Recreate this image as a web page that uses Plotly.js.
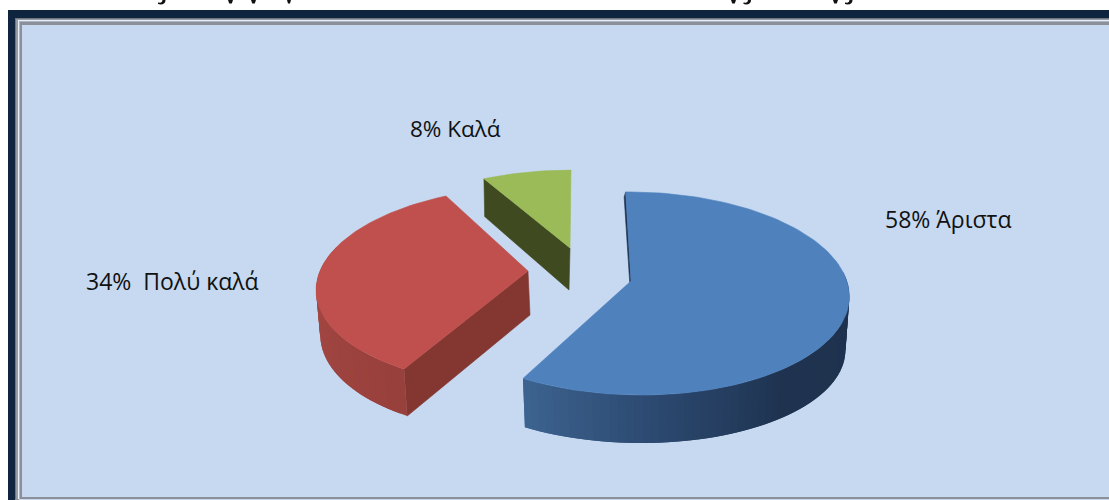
<!DOCTYPE html>
<html><head><meta charset="utf-8">
<script src="https://cdn.plot.ly/plotly-3.0.1.min.js"></script>
<style>html,body{margin:0;padding:0;background:#fff;overflow:hidden}#c{width:1109px;height:500px}</style>
</head><body><div id="c"></div><script>
const categories = ['Άριστα', 'Πολύ καλά', 'Καλά'];
const shares = [58, 34, 8];
const labelTexts = ['58% Άριστα', '34%\u00a0 Πολύ καλά', '8% Καλά'];
const topColors = ['#4f81bd', '#c0504d', '#9bbb59'];

const W = 1109, H = 500;
const labelAt = [[883, 219], [84, 281], [408, 128]];
const labelSize = [23, 23, 22.5];
const FONT = 'Open Sans, Noto Sans, sans-serif';

/* perspective look of each exploded slice */
const views = [
  {cx:631, cy:281, A:212.6, B:100, k:.123, m:-.015, s:-6, dx:0, dy:54.4, sx:.982, sy:.944},
  {cx:528, cy:271, A:208, B:97,  k:.152, m:0,    s:8.3, dx:2, dy:44,   sx:.99,  sy:1.03},
  {cx:570, cy:248, A:201, B:88,  k:.13,  m:0,    s:1.1, dx:-1,dy:42,   sx:.98,  sy:1.06}
];
function topPt(g, deg){
  const t = deg*Math.PI/180, u = Math.sin(t), v = Math.cos(t), w = 1 + g.k*v + g.m*u;
  return [g.cx + (g.A*u + g.s*v)/w, g.cy - g.B*v/w];
}
function lowPt(g, p){
  return [g.cx + g.dx + g.sx*(p[0]-g.cx), g.cy + g.dy + g.sy*(p[1]-g.cy)];
}
function poly(pts, color, name, lw){
  const xs = pts.map(p=>p[0]).concat([pts[0][0]]);
  const ys = pts.map(p=>p[1]).concat([pts[0][1]]);
  return {type:'scatter', mode:'lines', x:xs, y:ys, fill:'toself', fillcolor:color,
          line:{color:color, width:lw===undefined?.6:lw}, hoverinfo:'skip', showlegend:false, name:name||''};
}
function mix(stops, t){
  for(let i=1;i<stops.length;i++){
    if(t<=stops[i][0]){
      const a=stops[i-1], b=stops[i], f=(t-a[0])/(b[0]-a[0]);
      return 'rgb('+[1,2,3].map(j=>Math.round(a[j]+(b[j]-a[j])*f)).join(',')+')';
    }
  }
  const l=stops[stops.length-1]; return 'rgb('+l[1]+','+l[2]+','+l[3]+')';
}
const total = shares.reduce((a,b)=>a+b,0);
const starts = []; let acc = 0;
shares.forEach(v=>{starts.push(acc*360/total); acc+=v;});
const spans = shares.map(v=>v*360/total);

const traces = [];
function arc(g,a0,a1,n){const r=[];for(let i=0;i<=n;i++)r.push(topPt(g,a0+(a1-a0)*i/n));return r;}
/* rounded wall: overlapping strips, later ones cover the seam of earlier ones */
function wall(g,from,to,stops){
  const step=2;
  const n=Math.round((to-from)/step), w=(to-from)/n;
  const order=[]; for(let i=n-1;i>=0;i--) order.push(i);
  order.forEach(i=>{
    const d=from+i*w, e=Math.min(d+w*2,to);
    const pts=arc(g,d,e,2), back=pts.map(p=>lowPt(g,p)).reverse();
    traces.push(poly(pts.concat(back),mix(stops,d+w/2),'',0));
  });
}

/* blue */
{
  const g=views[0], a0=starts[0], a1=a0+spans[0];
  const st=topPt(g,a0), ap=[g.cx,g.cy];
  traces.push(poly([st,ap,[ap[0]-1,ap[1]+6],[st[0]-1.5,st[1]+5]],'#1c3350','sliver'));
  wall(g,85,a1,[[85,30,50,78],[140,31,51,80],[170,42,70,108],[a1,62,101,146]]);
  traces.push(poly([ap].concat(arc(g,a0,a1,120)),topColors[0],categories[0]));
}
/* red */
{
  const g=views[1], a0=starts[1], a1=a0+spans[1];
  const ap=[g.cx,g.cy], st=topPt(g,a0);
  traces.push(poly([ap,st,lowPt(g,st),lowPt(g,ap)],'#843730','wall'));
  wall(g,a0,285,[[a0,152,64,60],[270,166,73,68],[290,166,73,68]]);
  traces.push(poly([ap].concat(arc(g,a0,a1,80)),topColors[1],categories[1]));
}
/* green */
{
  const g=views[2], a0=starts[2], a1=a0+spans[2];
  const ap=[g.cx,g.cy], st=topPt(g,a0);
  traces.push(poly([ap,st,lowPt(g,st),lowPt(g,ap)],'#404a20','wall'));
  traces.push(poly([ap].concat(arc(g,a0,a1,24)),topColors[2],categories[2]));
}

const rect=(x0,y0,x1,y1,c)=>({type:'rect',xref:'x',yref:'y',x0,y0,x1,y1,fillcolor:c,line:{width:0},layer:'below'});
const path=(d)=>({type:'path',xref:'x',yref:'y',path:d,fillcolor:'#111',line:{width:0},layer:'below'});
const stem=(x,w)=>path(`M${x},0 L${x+w},0 L${x+w*.75},3.4 L${x+w*.25},3.4 Z`);
const hook=(x)=>path(`M${x},2.4 L${x+2.5},2.8 Q${x+4.5},2.2 ${x+4.5},0 L${x+7.5},0 Q${x+7.5},4.4 ${x+2.5},4.5 L${x},4 Z`);
const shapes=[
  rect(8,10,W,H,'#0f243e'),
  rect(15,18,W,H,'#6f7680'),
  rect(16,19,W,H,'#969aa2'),
  rect(18,20,W,H,'#e8eef7'),
  rect(19,21,W,H,'#a9b5c6'),
  rect(20,22,W,499,'#8b8f97'),
  rect(22,25,W,497,'#c6d9f1'),
  rect(15,499,W,H,'#c6d9f1'),
  rect(15,499,19,H,'#8b8f97'),
  hook(158),stem(228,5),stem(251,5),stem(287,4),
  stem(731,5),hook(743.5),stem(833,5),hook(845)
];
const annotations=labelTexts.map((t,i)=>({x:labelAt[i][0],y:labelAt[i][1],xref:'x',yref:'y',
  text:t,showarrow:false,xanchor:'left',yanchor:'middle',font:{family:FONT,size:labelSize[i],color:'#111'}}));

Plotly.newPlot('c',traces,{
  width:W,height:H,margin:{l:0,r:0,t:0,b:0},paper_bgcolor:'#fff',plot_bgcolor:'#fff',
  xaxis:{range:[0,W],visible:false,fixedrange:true},
  yaxis:{range:[H,0],visible:false,fixedrange:true},
  shapes,annotations,showlegend:false
},{displayModeBar:false,staticPlot:true});
</script></body></html>
